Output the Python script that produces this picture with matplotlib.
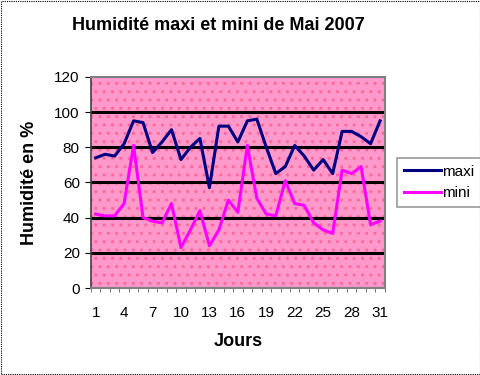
import numpy as np
import matplotlib.pyplot as plt
from matplotlib.patches import Rectangle

plt.rcParams['font.family'] = ['Liberation Sans', 'DejaVu Sans']

# Humidity readings for May 2007
days = np.arange(1, 32)
maxi = [74, 76, 75, 82, 95, 94, 77, 83, 90, 73, 80, 85, 57, 92, 92, 83,
        95, 96, 80, 65, 69, 81, 75, 67, 73, 65, 89, 89, 86, 82, 95]
mini = [42, 41, 41, 48, 81, 40, 38, 37, 48, 23, 33, 44, 24, 33, 50, 43,
        81, 51, 42, 41, 61, 48, 47, 37, 33, 31, 67, 65, 69, 36, 38]
xtick_days = list(range(1, 32, 3))
yticks = [0, 20, 40, 60, 80, 100, 120]

fig = plt.figure(figsize=(4.81, 3.75), dpi=100)
ax = fig.add_axes([0.189, 0.232, 0.611, 0.563])

# pink background with dotted pattern
ax.set_facecolor('#FF99CC')
ax.add_patch(Rectangle((0, 0), 1, 1, transform=ax.transAxes, fill=False,
                       hatch='..', edgecolor='#FF6699', lw=0, zorder=0))

for y in yticks[1:-1]:
    ax.axhline(y, color='black', lw=2.2, zorder=1)

ax.plot(days, maxi, color='#000080', lw=2.2, label='maxi', zorder=3)
ax.plot(days, mini, color='#FF00FF', lw=2.2, label='mini', zorder=3)

ax.set_xlim(0.5, 31.5)
ax.set_ylim(0, 120)
ax.set_yticks(yticks)
ax.set_xticks(xtick_days)
ax.set_xticks(np.arange(0.5, 32, 1), minor=True)
ax.tick_params(axis='x', which='major', length=0, labelsize=11, pad=13)
ax.tick_params(axis='x', which='minor', length=3, direction='out', color='#606060')
ax.tick_params(axis='y', length=4, direction='out', labelsize=11, pad=4)

for side in ['top', 'right', 'bottom']:
    ax.spines[side].set_color('#808080')
    ax.spines[side].set_linewidth(1.5)
ax.spines['left'].set_color('#404040')
ax.spines['left'].set_linewidth(1.2)

ax.set_xlabel('Jours', fontsize=13, fontweight='bold', labelpad=9)
ax.set_ylabel('Humidité en %', fontsize=13, fontweight='bold', labelpad=12)
fig.text(0.455, 0.932, 'Humidité maxi et mini de Mai 2007', ha='center',
         va='center', fontsize=13, fontweight='bold')

leg = ax.legend(loc='center left', bbox_to_anchor=(1.042, 0.5), fontsize=11,
                frameon=True, fancybox=False, handlelength=2.4,
                handletextpad=0.1, borderpad=0.45, labelspacing=0.5,
                borderaxespad=0)
leg.get_frame().set_edgecolor('#808080')
leg.get_frame().set_linewidth(1.2)

# dotted outer border
fig.patches.append(Rectangle((0.002, 0.003), 0.995, 0.994, transform=fig.transFigure,
                             fill=False, edgecolor='black', lw=0.8, linestyle=(0, (1, 1))))

fig.savefig('out.png', dpi=100)
